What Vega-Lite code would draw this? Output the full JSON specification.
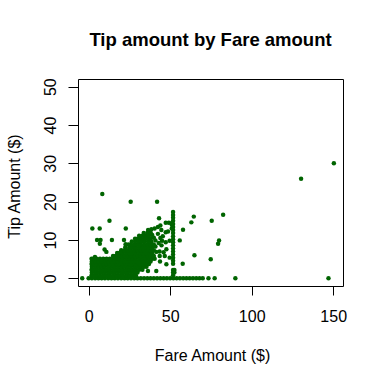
{
  "$schema": "https://vega.github.io/schema/vega-lite/v6.json",
  "width": 265,
  "height": 207,
  "autosize": {"type": "none"},
  "padding": {"left": 78, "top": 79, "right": 39, "bottom": 96},
  "background": "white",
  "config": {
    "font": "Liberation Sans",
    "view": {"stroke": "black", "strokeWidth": 1}
  },
  "title": {
    "text": "Tip amount by Fare amount",
    "font": "Liberation Sans",
    "fontSize": 18.5,
    "fontWeight": "bold",
    "color": "black",
    "anchor": "middle",
    "frame": "group",
    "offset": 28
  },
  "data": {
    "values": [
      {"fare": -3.9, "tip": 0}, {"fare": 0, "tip": 0}, {"fare": 2, "tip": 0}, {"fare": 4, "tip": 0}, {"fare": 6, "tip": 0}, {"fare": 8, "tip": 0}, {"fare": 10, "tip": 0}, {"fare": 12, "tip": 0}, {"fare": 14, "tip": 0}, {"fare": 16, "tip": 0}, {"fare": 18, "tip": 0}, {"fare": 20, "tip": 0}, {"fare": 22, "tip": 0}, {"fare": 24, "tip": 0}, {"fare": 26, "tip": 0}, {"fare": 28, "tip": 0}, {"fare": 30, "tip": 0}, {"fare": 32, "tip": 0}, {"fare": 34, "tip": 0}, {"fare": 36, "tip": 0}, {"fare": 38, "tip": 0}, {"fare": 40, "tip": 0}, {"fare": 42, "tip": 0}, {"fare": 44, "tip": 0}, {"fare": 46, "tip": 0}, {"fare": 48, "tip": 0}, {"fare": 50, "tip": 0}, {"fare": 52, "tip": 0}, {"fare": 54, "tip": 0}, {"fare": 56, "tip": 0}, {"fare": 58, "tip": 0}, {"fare": 60, "tip": 0}, {"fare": 62, "tip": 0}, {"fare": 64, "tip": 0}, {"fare": 66, "tip": 0}, {"fare": 68, "tip": 0}, {"fare": 70, "tip": 0}, {"fare": 73.5, "tip": 0}, {"fare": 77.3, "tip": 0}, {"fare": 90, "tip": 0}, {"fare": 147.1, "tip": 0},

      {"fare": 1.8, "tip": 0.75}, {"fare": 3, "tip": 0.75}, {"fare": 5, "tip": 0.75}, {"fare": 7, "tip": 0.75}, {"fare": 9, "tip": 0.75}, {"fare": 11, "tip": 0.75}, {"fare": 13, "tip": 0.75}, {"fare": 15, "tip": 0.75}, {"fare": 17, "tip": 0.75}, {"fare": 19, "tip": 0.75}, {"fare": 21, "tip": 0.75}, {"fare": 23, "tip": 0.75}, {"fare": 25, "tip": 0.75}, {"fare": 27, "tip": 0.75}, {"fare": 29, "tip": 0.75},

      {"fare": 2, "tip": 1.5}, {"fare": 4, "tip": 1.5}, {"fare": 6, "tip": 1.5}, {"fare": 8, "tip": 1.5}, {"fare": 10, "tip": 1.5}, {"fare": 12, "tip": 1.5}, {"fare": 14, "tip": 1.5}, {"fare": 16, "tip": 1.5}, {"fare": 18, "tip": 1.5}, {"fare": 20, "tip": 1.5}, {"fare": 22, "tip": 1.5}, {"fare": 24, "tip": 1.5}, {"fare": 26, "tip": 1.5}, {"fare": 28, "tip": 1.5}, {"fare": 30, "tip": 1.5},

      {"fare": 1.8, "tip": 2.25}, {"fare": 3, "tip": 2.25}, {"fare": 5, "tip": 2.25}, {"fare": 7, "tip": 2.25}, {"fare": 9, "tip": 2.25}, {"fare": 11, "tip": 2.25}, {"fare": 13, "tip": 2.25}, {"fare": 15, "tip": 2.25}, {"fare": 17, "tip": 2.25}, {"fare": 19, "tip": 2.25}, {"fare": 21, "tip": 2.25}, {"fare": 23, "tip": 2.25}, {"fare": 25, "tip": 2.25}, {"fare": 27, "tip": 2.25}, {"fare": 29, "tip": 2.25}, {"fare": 31, "tip": 2.25}, {"fare": 33, "tip": 2.25},

      {"fare": 2, "tip": 3}, {"fare": 4, "tip": 3}, {"fare": 6, "tip": 3}, {"fare": 8, "tip": 3}, {"fare": 10, "tip": 3}, {"fare": 12, "tip": 3}, {"fare": 14, "tip": 3}, {"fare": 16, "tip": 3}, {"fare": 18, "tip": 3}, {"fare": 20, "tip": 3}, {"fare": 22, "tip": 3}, {"fare": 24, "tip": 3}, {"fare": 26, "tip": 3}, {"fare": 28, "tip": 3}, {"fare": 30, "tip": 3}, {"fare": 32, "tip": 3}, {"fare": 34, "tip": 3}, {"fare": 35.5, "tip": 3},

      {"fare": 1.8, "tip": 3.75}, {"fare": 3, "tip": 3.75}, {"fare": 5, "tip": 3.75}, {"fare": 7, "tip": 3.75}, {"fare": 9, "tip": 3.75}, {"fare": 11, "tip": 3.75}, {"fare": 13, "tip": 3.75}, {"fare": 15, "tip": 3.75}, {"fare": 17, "tip": 3.75}, {"fare": 19, "tip": 3.75}, {"fare": 21, "tip": 3.75}, {"fare": 23, "tip": 3.75}, {"fare": 25, "tip": 3.75}, {"fare": 27, "tip": 3.75}, {"fare": 29, "tip": 3.75}, {"fare": 31, "tip": 3.75}, {"fare": 33, "tip": 3.75}, {"fare": 35, "tip": 3.75}, {"fare": 37, "tip": 3.75},

      {"fare": 2, "tip": 4.4}, {"fare": 4, "tip": 4.4}, {"fare": 6, "tip": 4.4}, {"fare": 8, "tip": 4.4}, {"fare": 10, "tip": 4.4}, {"fare": 12, "tip": 4.4}, {"fare": 14, "tip": 4.4}, {"fare": 16, "tip": 4.4}, {"fare": 18, "tip": 4.4}, {"fare": 20, "tip": 4.4}, {"fare": 22, "tip": 4.4}, {"fare": 24, "tip": 4.4}, {"fare": 26, "tip": 4.4}, {"fare": 28, "tip": 4.4}, {"fare": 30, "tip": 4.4}, {"fare": 32, "tip": 4.4}, {"fare": 34, "tip": 4.4}, {"fare": 36, "tip": 4.4}, {"fare": 38, "tip": 4.4},

      {"fare": 1.8, "tip": 5.1}, {"fare": 3, "tip": 5.1}, {"fare": 5, "tip": 5.1}, {"fare": 7, "tip": 5.1}, {"fare": 9, "tip": 5.1}, {"fare": 11, "tip": 5.1}, {"fare": 13, "tip": 5.1}, {"fare": 15, "tip": 5.1}, {"fare": 17, "tip": 5.1}, {"fare": 19, "tip": 5.1}, {"fare": 21, "tip": 5.1}, {"fare": 23, "tip": 5.1}, {"fare": 25, "tip": 5.1}, {"fare": 27, "tip": 5.1}, {"fare": 29, "tip": 5.1}, {"fare": 31, "tip": 5.1}, {"fare": 33, "tip": 5.1}, {"fare": 35, "tip": 5.1}, {"fare": 37, "tip": 5.1}, {"fare": 39, "tip": 5.1}, {"fare": 40.5, "tip": 5.1},

      {"fare": 15, "tip": 5.85}, {"fare": 16.5, "tip": 5.85}, {"fare": 18, "tip": 5.85}, {"fare": 20, "tip": 5.85}, {"fare": 22, "tip": 5.85}, {"fare": 24, "tip": 5.85}, {"fare": 26, "tip": 5.85}, {"fare": 28, "tip": 5.85}, {"fare": 30, "tip": 5.85}, {"fare": 32, "tip": 5.85}, {"fare": 34, "tip": 5.85}, {"fare": 36, "tip": 5.85}, {"fare": 38, "tip": 5.85}, {"fare": 40, "tip": 5.85},

      {"fare": 17.5, "tip": 6.6}, {"fare": 19, "tip": 6.6}, {"fare": 21, "tip": 6.6}, {"fare": 23, "tip": 6.6}, {"fare": 25, "tip": 6.6}, {"fare": 27, "tip": 6.6}, {"fare": 29, "tip": 6.6}, {"fare": 31, "tip": 6.6}, {"fare": 33, "tip": 6.6}, {"fare": 35, "tip": 6.6}, {"fare": 37, "tip": 6.6}, {"fare": 39, "tip": 6.6}, {"fare": 41.5, "tip": 6.9},

      {"fare": 20, "tip": 7.35}, {"fare": 22, "tip": 7.35}, {"fare": 24, "tip": 7.35}, {"fare": 26, "tip": 7.35}, {"fare": 28, "tip": 7.35}, {"fare": 30, "tip": 7.35}, {"fare": 32, "tip": 7.35}, {"fare": 34, "tip": 7.35}, {"fare": 36, "tip": 7.35}, {"fare": 38, "tip": 7.35}, {"fare": 40, "tip": 7.35},

      {"fare": 22.5, "tip": 8.1}, {"fare": 25, "tip": 8.1}, {"fare": 27, "tip": 8.1}, {"fare": 29, "tip": 8.1}, {"fare": 31, "tip": 8.1}, {"fare": 33, "tip": 8.1}, {"fare": 35, "tip": 8.1}, {"fare": 37, "tip": 8.1}, {"fare": 39, "tip": 8.1}, {"fare": 41, "tip": 8.3},

      {"fare": 24.5, "tip": 8.85}, {"fare": 26, "tip": 8.85}, {"fare": 28, "tip": 8.85}, {"fare": 30, "tip": 8.85}, {"fare": 32, "tip": 8.85}, {"fare": 34, "tip": 8.85}, {"fare": 36, "tip": 8.85}, {"fare": 38, "tip": 8.85}, {"fare": 40, "tip": 8.85},

      {"fare": 26.5, "tip": 9.6}, {"fare": 28.5, "tip": 9.6}, {"fare": 30.5, "tip": 9.6}, {"fare": 32.5, "tip": 9.6}, {"fare": 34.5, "tip": 9.6}, {"fare": 36.5, "tip": 9.6}, {"fare": 38.5, "tip": 9.6}, {"fare": 41, "tip": 9.9},

      {"fare": 28.5, "tip": 10.35}, {"fare": 30, "tip": 10.35}, {"fare": 32, "tip": 10.35}, {"fare": 34, "tip": 10.35}, {"fare": 36, "tip": 10.35}, {"fare": 38, "tip": 10.35}, {"fare": 40, "tip": 10.6},

      {"fare": 31, "tip": 11.1}, {"fare": 33, "tip": 11.1}, {"fare": 35, "tip": 11.1}, {"fare": 37, "tip": 11.1}, {"fare": 39, "tip": 11.3},

      {"fare": 33.8, "tip": 11.85}, {"fare": 36, "tip": 11.85}, {"fare": 38, "tip": 12},

      {"fare": 36.5, "tip": 12.6}, {"fare": 38.5, "tip": 12.8}, {"fare": 42.5, "tip": 13.4},

      {"fare": 51.8, "tip": 0.8}, {"fare": 51.8, "tip": 1.5}, {"fare": 52.6, "tip": 1.5}, {"fare": 51.8, "tip": 2.2}, {"fare": 52.6, "tip": 2.2}, {"fare": 51.8, "tip": 3.8}, {"fare": 51.8, "tip": 4.6}, {"fare": 51.8, "tip": 5.4}, {"fare": 51.8, "tip": 6.2}, {"fare": 51.8, "tip": 7}, {"fare": 51.8, "tip": 7.8}, {"fare": 51.8, "tip": 8.6}, {"fare": 51.8, "tip": 9.4}, {"fare": 51.8, "tip": 10.2}, {"fare": 51.8, "tip": 11}, {"fare": 51.8, "tip": 11.8}, {"fare": 51.8, "tip": 12.6}, {"fare": 51.8, "tip": 13.4}, {"fare": 51, "tip": 13}, {"fare": 51.8, "tip": 14.2}, {"fare": 51, "tip": 14}, {"fare": 51.8, "tip": 15}, {"fare": 51.8, "tip": 15.8}, {"fare": 51.8, "tip": 16.5}, {"fare": 51.8, "tip": 17.3},

      {"fare": 8.4, "tip": 22}, {"fare": 25.8, "tip": 20}, {"fare": 42, "tip": 20}, {"fare": 130.3, "tip": 26}, {"fare": 150.4, "tip": 30},
      {"fare": 82.5, "tip": 16.6}, {"fare": 75.5, "tip": 15}, {"fare": 64.5, "tip": 16.1}, {"fare": 63, "tip": 14.6}, {"fare": 57.9, "tip": 12.7},
      {"fare": 55.9, "tip": 9.9}, {"fare": 64.9, "tip": 6}, {"fare": 57.7, "tip": 3.8}, {"fare": 74.9, "tip": 5}, {"fare": 80, "tip": 9.9}, {"fare": 79.4, "tip": 9},
      {"fare": 43.2, "tip": 15.7}, {"fare": 12.8, "tip": 15}, {"fare": 2.3, "tip": 13}, {"fare": 6.8, "tip": 13}, {"fare": 22.8, "tip": 13},
      {"fare": 5.2, "tip": 10}, {"fare": 7.3, "tip": 10}, {"fare": 6.9, "tip": 9}, {"fare": 14.3, "tip": 10}, {"fare": 9.8, "tip": 7.5}, {"fare": 10.9, "tip": 6.9},
      {"fare": 21.7, "tip": 10}, {"fare": 22.7, "tip": 8.9}, {"fare": 3.9, "tip": 5.6},
      {"fare": 47.3, "tip": 14.5}, {"fare": 49.2, "tip": 14.5}, {"fare": 50.8, "tip": 14.4}, {"fare": 40.5, "tip": 13}, {"fare": 44.6, "tip": 12.6},
      {"fare": 47.3, "tip": 12}, {"fare": 48.7, "tip": 12.2}, {"fare": 47.3, "tip": 9.4}, {"fare": 49.7, "tip": 9.8}, {"fare": 44.7, "tip": 8.6},
      {"fare": 47.7, "tip": 7.6}, {"fare": 43.6, "tip": 5.8}, {"fare": 46.7, "tip": 5.8}, {"fare": 49.7, "tip": 5.4}, {"fare": 47.7, "tip": 3.7},
      {"fare": 41.5, "tip": 1.9}, {"fare": 36.4, "tip": 1.9}, {"fare": 44, "tip": 10.5}, {"fare": 45.5, "tip": 11}, {"fare": 43.5, "tip": 7}, {"fare": 46, "tip": 6.8},
      {"fare": 44, "tip": 13.8}, {"fare": 45, "tip": 9.8}, {"fare": 43.8, "tip": 4.4}, {"fare": 42.5, "tip": 11.6}, {"fare": 43, "tip": 9.2}
    ]
  },
  "mark": {"type": "circle", "size": 20, "color": "#006400", "opacity": 1},
  "encoding": {
    "x": {
      "field": "fare",
      "type": "quantitative",
      "scale": {"domain": [-6.5, 156], "nice": false, "zero": false},
      "axis": {
        "values": [0, 50, 100, 150],
        "title": "Fare Amount ($)",
        "titleFont": "Liberation Sans",
        "titleFontSize": 16,
        "titleFontWeight": "normal",
        "titleColor": "black",
        "titleBaseline": "alphabetic",
        "titleX": 134,
        "titleY": 74,
        "labelFont": "Liberation Sans",
        "labelFontSize": 16,
        "labelColor": "black",
        "labelPadding": 13,
        "labelFlush": false,
        "labelOverlap": false,
        "tickSize": 9,
        "tickColor": "black",
        "domain": false,
        "grid": false
      }
    },
    "y": {
      "field": "tip",
      "type": "quantitative",
      "scale": {"domain": [-2, 52], "nice": false, "zero": false},
      "axis": {
        "values": [0, 10, 20, 30, 40, 50],
        "title": "Tip Amount ($)",
        "titleFont": "Liberation Sans",
        "titleFontSize": 16,
        "titleFontWeight": "normal",
        "titleColor": "black",
        "titleAngle": 270,
        "titleAlign": "center",
        "titleBaseline": "alphabetic",
        "titleX": -59,
        "titleY": 107,
        "labelFont": "Liberation Sans",
        "labelFontSize": 16,
        "labelColor": "black",
        "labelAngle": 270,
        "labelAlign": "center",
        "labelBaseline": "alphabetic",
        "labelPadding": 13,
        "labelFlush": false,
        "labelOverlap": false,
        "tickSize": 10,
        "tickColor": "black",
        "domain": false,
        "grid": false
      }
    }
  }
}
